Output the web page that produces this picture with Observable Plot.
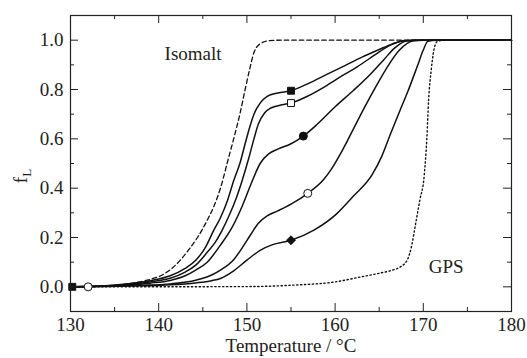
<!DOCTYPE html>
<html>
<head>
<meta charset="utf-8">
<script src="https://cdn.jsdelivr.net/npm/d3@7"></script>
<script src="https://cdn.jsdelivr.net/npm/@observablehq/plot@0.6"></script>
<style>
  html, body { margin: 0; padding: 0; background: #fff; }
  #chart { width: 527px; height: 358px; }
</style>
</head>
<body>
<div id="chart"></div>
<script>
// ---- data (temperature °C, liquid fraction f_L) ----
const isomalt = [[130,0],[134,0.003],[137,0.015],[139,0.03],[140.5,0.05],[141.5,0.075],[142.5,0.11],[143.5,0.155],[144.4,0.2],[145.5,0.27],[146.3,0.33],[147,0.4],[147.9,0.52],[148.5,0.6],[149.2,0.7],[149.8,0.8],[150.3,0.88],[150.8,0.95],[151.5,0.985],[152.5,0.998],[154,1],[180,1]];
const curveA = [[130,0],[133,0.002],[136,0.01],[139,0.025],[141.3,0.045],[143,0.075],[144.2,0.108],[145.3,0.16],[146.25,0.23],[147,0.28],[147.8,0.35],[148.5,0.43],[149.2,0.5],[149.8,0.58],[150.3,0.645],[150.8,0.7],[151.5,0.745],[152.3,0.772],[153.5,0.786],[155,0.795],[157,0.825],[159,0.86],[161,0.895],[163,0.93],[165,0.962],[166.5,0.985],[167.8,0.998],[169,1],[180,1]];
const curveB = [[130,0],[133,0.002],[136,0.008],[139,0.02],[141.3,0.035],[143,0.06],[144.2,0.088],[145.5,0.14],[146.4,0.18],[147.2,0.23],[148,0.29],[148.8,0.36],[149.5,0.435],[150.2,0.52],[150.8,0.6],[151.3,0.66],[152,0.705],[152.7,0.725],[154,0.738],[155,0.745],[157,0.775],[159,0.815],[161,0.86],[162.5,0.892],[164.5,0.94],[166,0.975],[167.8,0.998],[169,1],[180,1]];
const curveC = [[130,0],[133,0.002],[136,0.006],[139,0.015],[141.3,0.026],[143,0.045],[144.2,0.068],[145.5,0.1],[147,0.169],[148.3,0.24],[149.5,0.33],[150.5,0.42],[151.5,0.5],[152.5,0.54],[153.5,0.558],[155,0.58],[156.4,0.611],[158,0.66],[160,0.73],[162.1,0.797],[164,0.862],[165.5,0.92],[166.8,0.97],[168.2,0.998],[169.5,1],[180,1]];
const curveD = [[130,0],[134,0.002],[138,0.006],[141.3,0.012],[144.2,0.027],[146,0.048],[147,0.068],[148.5,0.11],[149.5,0.16],[150.4,0.21],[151.3,0.258],[152.3,0.288],[153.5,0.308],[155,0.335],[156.9,0.379],[158.7,0.435],[159.5,0.473],[161,0.565],[162.5,0.67],[164.4,0.797],[165.9,0.89],[167.3,0.96],[168.9,0.998],[170,1],[180,1]];
const curveE = [[130,0],[134,0.001],[138,0.004],[141.3,0.008],[144.2,0.016],[146,0.025],[147,0.034],[148.5,0.065],[150,0.108],[151.5,0.148],[153,0.172],[155,0.189],[157.6,0.23],[160.2,0.297],[162,0.365],[164.2,0.455],[165.3,0.53],[166.3,0.622],[167.3,0.71],[168.3,0.797],[169.3,0.892],[170,0.96],[170.5,0.995],[171.5,1],[180,1]];
const gps = [[130,0],[150,0.001],[155.3,0.007],[160,0.02],[162.9,0.04],[165,0.055],[166.5,0.068],[167.4,0.081],[168.2,0.11],[168.7,0.17],[169.1,0.25],[169.6,0.35],[170.1,0.45],[170.4,0.6],[170.6,0.757],[170.9,0.88],[171.2,0.96],[171.6,0.995],[172.5,1],[180,1]];

const markerT = [155, 155, 156.4, 156.9, 155, 130.2, 132];
const markerF = [0.795, 0.745, 0.611, 0.379, 0.189, 0, 0];
const markerKind = ["filled square","open square","filled circle","open circle","filled diamond","filled square","open circle"];

const annoText = ["Isomalt", "GPS"];
const annoT = [143.9, 172.6];
const annoF = [0.945, 0.08];

const xMajor = [130, 140, 150, 160, 170, 180];
const xMinor = [135, 145, 155, 165, 175];
const yMajor = [0, 0.2, 0.4, 0.6, 0.8, 1.0];
const yMinor = [0.1, 0.3, 0.5, 0.7, 0.9];

// ---- build ----
const W = 527, H = 358;
const mL = 70, mR = 16, mT = 15, mB = 47;
const fw = W - mL - mR, fh = H - mT - mB;
const toRec = arr => arr.map(([t, f]) => ({t, f}));
const solids = [curveA, curveB, curveC, curveD, curveE];
const markers = markerT.map((t, i) => ({t, f: markerF[i], kind: markerKind[i]}));
const annos = annoText.map((s, i) => ({s, t: annoT[i], f: annoF[i]}));
const font = "'Liberation Serif', 'Times New Roman', serif";
const symOf = k => k.endsWith("square") ? "square" : k.endsWith("circle") ? "circle" : "diamond2";
const rOf = k => k.endsWith("square") ? 3.9 : k.endsWith("circle") ? 4 : 4;

const marks = [
  Plot.line(toRec(isomalt), {x: "t", y: "f", stroke: "#111", strokeWidth: 1.3, strokeDasharray: "4.5,3", curve: "monotone-x"}),
  Plot.line(toRec(gps), {x: "t", y: "f", stroke: "#111", strokeWidth: 1.4, strokeDasharray: "1.3,2.6", curve: "monotone-x"}),
  ...solids.map(c => Plot.line(toRec(c), {x: "t", y: "f", stroke: "#111", strokeWidth: 1.5, curve: "monotone-x"})),
  ...["filled square","open square","filled circle","open circle","filled diamond"].map(k =>
    Plot.dot(markers.filter(m => m.kind === k), {x: "t", y: "f", symbol: symOf(k), r: rOf(k),
      fill: k.startsWith("filled") ? "#111" : "#fff", stroke: "#111", strokeWidth: 1})),
  Plot.text(annos, {x: "t", y: "f", text: "s", fontSize: 19, fill: "#222"}),
  // inward tick marks
  Plot.tickX(xMajor, {x: d => d, insetTop: fh - 8, stroke: "#222"}),
  Plot.tickX(xMinor, {x: d => d, insetTop: fh - 4, stroke: "#222"}),
  Plot.tickX(xMajor, {x: d => d, insetBottom: fh - 8, stroke: "#222"}),
  Plot.tickX(xMinor, {x: d => d, insetBottom: fh - 4, stroke: "#222"}),
  Plot.tickY(yMajor, {y: d => d, insetRight: fw - 8, stroke: "#222"}),
  Plot.tickY(yMinor, {y: d => d, insetRight: fw - 4, stroke: "#222"}),
  Plot.tickY(yMajor, {y: d => d, insetLeft: fw - 8, stroke: "#222"}),
  Plot.tickY(yMinor, {y: d => d, insetLeft: fw - 4, stroke: "#222"}),
  Plot.frame({stroke: "#222", strokeWidth: 1.2})
];

const chart = Plot.plot({
  width: W, height: H,
  marginLeft: mL, marginRight: mR, marginTop: mT, marginBottom: mB,
  style: {fontFamily: font, fontSize: "19px", background: "#fff", color: "#222"},
  x: {domain: [130, 180], ticks: xMajor, tickSize: 0, tickPadding: 6, tickFormat: d3.format("d"),
      label: "Temperature / °C", labelAnchor: "center", labelOffset: 40, labelArrow: "none"},
  y: {domain: [-0.1, 1.1], ticks: yMajor, tickSize: 0, tickPadding: 7, tickFormat: d3.format(".1f"), label: null},
  marks
});
document.getElementById("chart").appendChild(chart);

// y-axis title f_L (rotated, with subscript)
const svg = d3.select(chart.tagName.toLowerCase() === "svg" ? chart : chart.querySelector("svg"));
const yl = svg.append("text")
  .attr("transform", "translate(27,176) rotate(-90)")
  .attr("text-anchor", "middle")
  .attr("font-family", font)
  .attr("font-size", 19)
  .attr("fill", "#222");
yl.append("tspan").text("f");
yl.append("tspan").attr("font-size", 13).attr("dy", 4).text("L");
</script>
</body>
</html>
